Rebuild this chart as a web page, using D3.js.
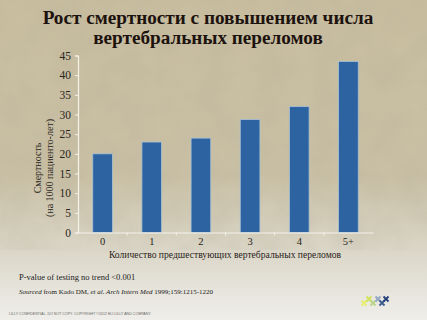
<!DOCTYPE html>
<html>
<head>
<meta charset="utf-8">
<script src="https://cdn.jsdelivr.net/npm/d3@7"></script>
<style>
  html, body { margin: 0; padding: 0; overflow: hidden; }
  svg { display: block; }
  svg text { font-family: "Liberation Serif", "Times New Roman", "DejaVu Serif", serif !important; }
  svg text.sans { font-family: "Liberation Sans", "DejaVu Sans", sans-serif !important; }
</style>
</head>
<body>
<svg id="chart" width="427" height="320"></svg>
<script>
  "use strict";

  // data
  var categories = ["0", "1", "2", "3", "4", "5+"];
  var mortality = [20, 23, 24, 28.7, 32, 43.5];
  var yTicks = [0, 5, 10, 15, 20, 25, 30, 35, 40, 45];
  var titleLines = ["Рост смертности с повышением числа", "вертебральных переломов"];
  var yTitleLines = ["Смертность", "(на 1000 пациенто-лет)"];
  var xTitle = "Количество предшествующих вертебральных переломов";

  var W = 427, H = 320;
  var svg = d3.select("#chart");
  var defs = svg.append("defs");

  // parchment background
  var grad = defs.append("linearGradient").attr("id", "bg")
    .attr("x1", 0).attr("y1", 0).attr("x2", 0).attr("y2", 1);
  grad.append("stop").attr("offset", "0%").attr("stop-color", "#c8bd9f");
  grad.append("stop").attr("offset", "55%").attr("stop-color", "#c9c0a5");
  grad.append("stop").attr("offset", "80%").attr("stop-color", "#dcd8ca");
  grad.append("stop").attr("offset", "100%").attr("stop-color", "#efeeea");

  var noise = defs.append("filter").attr("id", "grain")
    .attr("x", 0).attr("y", 0).attr("width", "100%").attr("height", "100%");
  noise.append("feTurbulence").attr("type", "fractalNoise")
    .attr("baseFrequency", 0.035).attr("numOctaves", 3).attr("seed", 4);
  noise.append("feColorMatrix").attr("type", "matrix")
    .attr("values", "0 0 0 0 0.45  0 0 0 0 0.41  0 0 0 0 0.31  0 0 0 0.7 -0.2");

  svg.append("rect").attr("width", W).attr("height", H).attr("fill", "url(#bg)");
  svg.append("rect").attr("width", W).attr("height", 250).attr("filter", "url(#grain)")
    .attr("opacity", 0.55);

  // title
  svg.append("g").selectAll("text").data(titleLines).enter().append("text")
    .attr("x", 208).attr("y", function (d, i) { return 24 + i * 19.5; })
    .attr("text-anchor", "middle")
    .attr("font-size", 19.2).attr("font-weight", "bold").attr("fill", "#1c120e")
    .text(function (d) { return d; });

  // scales
  var x = d3.scaleBand().domain(categories).range([78, 373]).paddingInner(0.6).paddingOuter(0.3);
  var y = d3.scaleLinear().domain([0, 45]).range([232.5, 55.5]);

  // bars
  svg.append("g").selectAll("rect").data(mortality).enter().append("rect")
    .attr("x", function (d, i) { return x(categories[i]); })
    .attr("y", function (d) { return y(d); })
    .attr("width", x.bandwidth())
    .attr("height", function (d) { return y(0) - y(d); })
    .attr("fill", "#2e63a2")
    .attr("stroke", "#a9c2d4").attr("stroke-width", 0.8);

  // y axis
  var yAxis = svg.append("g").attr("transform", "translate(78,0)")
    .call(d3.axisLeft(y).tickValues(yTicks).tickSize(3).tickPadding(4));
  yAxis.select(".domain").attr("stroke", "#f4f2ea").attr("stroke-width", 1.2);
  yAxis.selectAll(".tick line").attr("stroke", "#f4f2ea");
  yAxis.selectAll(".tick text").attr("font-size", 11.5).attr("fill", "#2a2420");

  // x axis: ticks between categories
  var xAxis = svg.append("g").attr("transform", "translate(0," + y(0) + ")")
    .call(d3.axisBottom(x).tickSize(0).tickPadding(5));
  xAxis.select(".domain").attr("stroke", "#f4f2ea").attr("stroke-width", 1.2);
  xAxis.selectAll(".tick text").attr("font-size", 10.5).attr("fill", "#2a2420");
  xAxis.selectAll(".sep").data(categories.slice(1)).enter().append("line")
    .attr("class", "sep")
    .attr("x1", function (d) { return x(d) - x.bandwidth() * 0.75; })
    .attr("x2", function (d) { return x(d) - x.bandwidth() * 0.75; })
    .attr("y1", 0).attr("y2", 3)
    .attr("stroke", "#f4f2ea");

  // axis titles
  svg.append("text").attr("x", 225).attr("y", 258)
    .attr("text-anchor", "middle").attr("font-size", 9.6).attr("fill", "#2a2420")
    .text(xTitle);

  svg.append("g").attr("transform", "translate(0,168) rotate(-90)")
    .selectAll("text").data(yTitleLines).enter().append("text")
    .attr("x", 0).attr("y", function (d, i) { return 41 + i * 12; })
    .attr("text-anchor", "middle").attr("font-size", 10).attr("fill", "#2a2420")
    .text(function (d) { return d; });

  // footnotes
  svg.append("text").attr("x", 19).attr("y", 280)
    .attr("font-size", 8.5).attr("fill", "#222")
    .text("P-value of testing no trend <0.001");

  var src = svg.append("text").attr("x", 19).attr("y", 294)
    .attr("font-size", 7).attr("fill", "#222");
  src.append("tspan").attr("font-style", "italic").text("Sourced");
  src.append("tspan").text(" from Kado DM, ");
  src.append("tspan").attr("font-style", "italic").text("et al. Arch Intern Med");
  src.append("tspan").text(" 1999;159:1215-1220");

  svg.append("text").attr("class", "sans").attr("x", 9).attr("y", 315)
    .attr("font-size", 3.6).attr("fill", "#666")
    .text("LILLY CONFIDENTIAL. DO NOT COPY. COPYRIGHT ©2012 ELI LILLY AND COMPANY.");

  // little logo of crosses, yellow to navy
  var logo = [
    { x: 364, y: 303, c: "#e6ee6a" }, { x: 369, y: 299, c: "#cfe25a" },
    { x: 373, y: 303, c: "#b8d488" }, { x: 378, y: 299, c: "#8fa6c2" },
    { x: 382, y: 303, c: "#3c5d8e" }, { x: 386, y: 299, c: "#24407a" }
  ];
  svg.append("g").selectAll("path").data(logo).enter().append("path")
    .attr("d", function (d) {
      return "M" + (d.x - 2.5) + "," + (d.y - 2.5) + "L" + (d.x + 2.5) + "," + (d.y + 2.5) +
        "M" + (d.x + 2.5) + "," + (d.y - 2.5) + "L" + (d.x - 2.5) + "," + (d.y + 2.5);
    })
    .attr("stroke", function (d) { return d.c; }).attr("stroke-width", 1.8);
</script>
</body>
</html>
